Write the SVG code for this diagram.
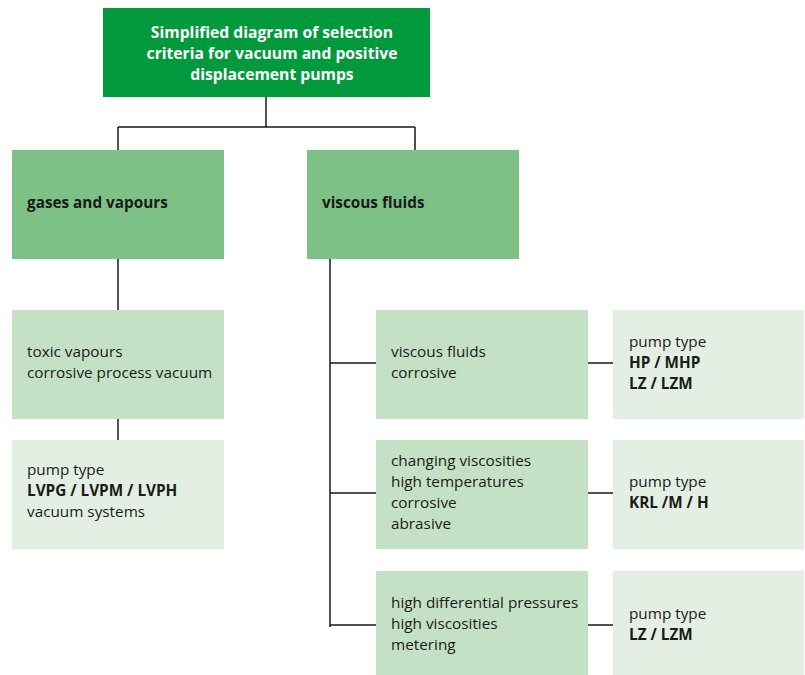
<svg xmlns="http://www.w3.org/2000/svg" width="805" height="675" viewBox="0 0 805 675">
<style>
.t{font-family:"Open Sans","Liberation Sans",sans-serif;font-size:15.3px;fill:#1a1a1a}
.b{font-weight:bold}
.w{fill:#ffffff;font-weight:bold;text-anchor:middle;font-size:15.7px}
.c1{fill:#009a3d}
.c2{fill:#7dc187}
.c3{fill:#c4e1c5}
.c4{fill:#e3efe3}
.ln{stroke:#1a1a1a;stroke-width:1.5;fill:none}
</style>
<rect width="805" height="675" fill="#ffffff"/>
<g id="connectors">
<path class="ln" d="M266 97V127M118 127H415M118 127V150M415 127V150"/>
<path class="ln" d="M118 259V310M118 419V440"/>
<path class="ln" d="M330 259V627M330 363H376M330 493H376M330 625H376"/>
<path class="ln" d="M588 363H613M588 493H613M588 625H613"/>
</g>
<g id="title">
<rect class="c1" x="103" y="8" width="327" height="89"/>
<text class="t w" x="272" y="38">Simplified diagram of selection</text>
<text class="t w" x="272" y="59">criteria for vacuum and positive</text>
<text class="t w" x="272" y="80">displacement pumps</text>
</g>
<g id="gases">
<rect class="c2" x="12" y="150" width="212" height="109"/>
<text class="t b" x="27" y="208">gases and vapours</text>
</g>
<g id="viscous">
<rect class="c2" x="307" y="150" width="212" height="109"/>
<text class="t b" x="322" y="208">viscous fluids</text>
</g>
<g id="toxic">
<rect class="c3" x="12" y="310" width="212" height="109"/>
<text class="t" x="27" y="357">toxic vapours</text>
<text class="t" x="27" y="378">corrosive process vacuum</text>
</g>
<g id="pump-lvp">
<rect class="c4" x="12" y="440" width="212" height="109"/>
<text class="t" x="27" y="475">pump type</text>
<text class="t b" x="27" y="496">LVPG / LVPM / LVPH</text>
<text class="t" x="27" y="517">vacuum systems</text>
</g>
<g id="crit1">
<rect class="c3" x="376" y="310" width="212" height="109"/>
<text class="t" x="391" y="357">viscous fluids</text>
<text class="t" x="391" y="378">corrosive</text>
</g>
<g id="pump1">
<rect class="c4" x="613" y="310" width="191" height="109"/>
<text class="t" x="629" y="347">pump type</text>
<text class="t b" x="629" y="368">HP / MHP</text>
<text class="t b" x="629" y="389">LZ / LZM</text>
</g>
<g id="crit2">
<rect class="c3" x="376" y="440" width="212" height="109"/>
<text class="t" x="391" y="466">changing viscosities</text>
<text class="t" x="391" y="487">high temperatures</text>
<text class="t" x="391" y="508">corrosive</text>
<text class="t" x="391" y="529">abrasive</text>
</g>
<g id="pump2">
<rect class="c4" x="613" y="440" width="191" height="109"/>
<text class="t" x="629" y="487">pump type</text>
<text class="t b" x="629" y="508">KRL /M / H</text>
</g>
<g id="crit3">
<rect class="c3" x="376" y="571" width="212" height="104"/>
<text class="t" x="391" y="608">high differential pressures</text>
<text class="t" x="391" y="629">high viscosities</text>
<text class="t" x="391" y="650">metering</text>
</g>
<g id="pump3">
<rect class="c4" x="613" y="571" width="191" height="104"/>
<text class="t" x="629" y="619">pump type</text>
<text class="t b" x="629" y="640">LZ / LZM</text>
</g>
</svg>
